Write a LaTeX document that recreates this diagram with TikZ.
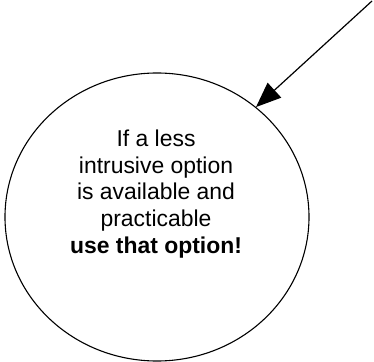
\documentclass[tikz,border=0pt]{standalone}
\usepackage{fontspec}
\setmainfont{Liberation Sans}
\usetikzlibrary{arrows.meta,shapes.geometric,positioning}

\begin{document}
\begin{tikzpicture}[x=1bp,y=1bp]
	\useasboundingbox (0,0) rectangle (374,362);

	\node[draw=black,line width=1.1bp,ellipse,minimum width=304bp,minimum height=288bp,inner sep=0pt] (bubble) at (157,145){};
	\node[align=center,font=\fontsize{23}{27}\selectfont] (advice) at (156,168){If a less\\intrusive option\\is available and\\practicable\\\textbf{use that option!}};

	\coordinate (start) at (372,361);
	\draw[line width=1.2bp,-{Triangle[length=25bp,width=20bp]}] (start)--(bubble.48);
\end{tikzpicture}
\end{document}
